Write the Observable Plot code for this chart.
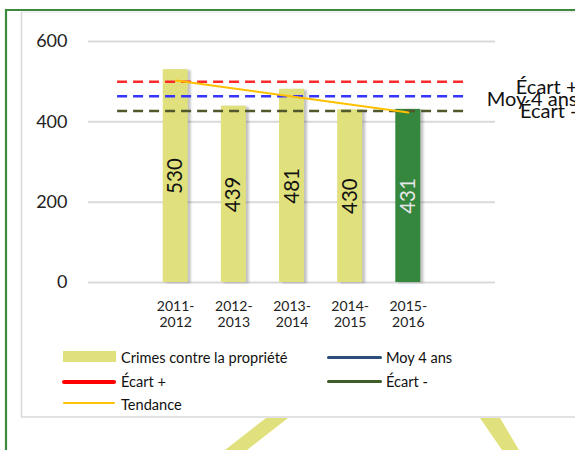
<!DOCTYPE html>
<html>
<head>
<meta charset="utf-8">
<script src="https://cdn.jsdelivr.net/npm/d3@7"></script>
<script src="https://cdn.jsdelivr.net/npm/@observablehq/plot@0.6"></script>
<style>
  html, body { margin: 0; padding: 0; background: #fff; }
  #wrap { position: relative; width: 575px; height: 450px; overflow: hidden; font-family: Lato, "Open Sans", sans-serif; }
  #deco { position: absolute; left: 0; top: 0; }
  #chart { position: absolute; left: 0; top: 0; }
  .leg { position: absolute; font-size: 14.6px; color: #111; line-height: 16px; white-space: nowrap; }
  .sw { position: absolute; }
</style>
</head>
<body>
<div id="wrap">
  <svg id="deco" width="575" height="450">
    <path d="M6,450 V10 H575" fill="none" stroke="#3b8a40" stroke-width="2.2"/>
    <path d="M21.5,12 V417 H575" fill="none" stroke="#d9d9d9" stroke-width="1.5"/>
    <path d="M21.5,12 H575" fill="none" stroke="#e3e3e3" stroke-width="1"/>
    <polygon points="266,418 288,418 247,450 225,450" fill="#e0e17d"/>
    <polygon points="480,418 500,418 519,450 502,450" fill="#e0e17d"/>
  </svg>
  <div id="chart"></div>
  <div id="legend"></div>
</div>
<script>
// ---- data ----
const periods = ["2011-\n2012", "2012-\n2013", "2013-\n2014", "2014-\n2015", "2015-\n2016"];
const crimes = [530, 439, 481, 430, 431];
const tendance = [503, 483, 463, 443, 423];
const refNames = ["Écart +", "Moy 4 ans", "Écart -"];
const refValues = [500, 464, 427];
const yTicks = [0, 200, 400, 600];
const legendNames = ["Crimes contre la propriété", "Moy 4 ans", "Écart +", "Écart -", "Tendance"];

// ---- styles ----
const barColor = "#e0e17d";
const lastBarColor = "#35873e";
const refColors = ["#ff2b2b", "#3535ff", "#50582c"];
const refLabelDy = [6, 3, 1];
const idx = crimes.map((_, i) => i);
const hw = 0.215;

const marks = [
  Plot.gridY(yTicks, {stroke: "#d9d9d9", strokeOpacity: 1, strokeWidth: 2}),
  Plot.axisY({ticks: yTicks, tickSize: 0, tickPadding: 21, fontSize: 18, fill: "#222"}),
  Plot.axisX({ticks: [1, 2, 3, 4, 5], tickFormat: d => periods[d - 1], tickSize: 0, tickPadding: 17, fontSize: 14, lineHeight: 1.15, fill: "#222"}),
  // shadows
  Plot.rectY(idx, {x1: i => i + 1 - hw, x2: i => i + 1 + hw, y1: 0, y2: i => crimes[i], fill: "#555", fillOpacity: 0.35, dx: 3, dy: 1}),
  // bars
  Plot.rectY(idx.slice(0, 4), {x1: i => i + 1 - hw, x2: i => i + 1 + hw, y1: 0, y2: i => crimes[i], fill: barColor}),
  Plot.rectY(idx.slice(4), {x1: i => i + 1 - hw, x2: i => i + 1 + hw, y1: 0, y2: i => crimes[i], fill: lastBarColor}),
  // reference lines
  ...refValues.map((v, k) => Plot.ruleY([v], {x1: 0, x2: 6, stroke: refColors[k], strokeWidth: 2.5, strokeDasharray: "10,6"})),
  // trend
  Plot.line(idx, {x: i => i + 1, y: i => tendance[i], stroke: "#ffc000", strokeWidth: 2}),
  // bar labels
  Plot.text(idx.slice(0, 4), {x: i => i + 1, y: i => crimes[i] / 2, text: i => String(crimes[i]), rotate: -90, fontSize: 20.5, fill: "#111"}),
  Plot.text(idx.slice(4), {x: i => i + 1, y: i => crimes[i] / 2, text: i => String(crimes[i]), rotate: -90, fontSize: 20.5, fill: "#e6e6e6"}),
  // reference labels
  ...refValues.map((v, k) => Plot.text([v], {x: 6.5, y: d => d, text: () => refNames[k], textAnchor: "end", dx: 82, dy: refLabelDy[k], fontSize: 20, fill: "#111"}))
];

const chart = Plot.plot({
  width: 575,
  height: 340,
  marginLeft: 88,
  marginRight: 80,
  marginTop: 41,
  marginBottom: 58,
  style: {fontFamily: "Lato, 'Open Sans', sans-serif", background: "transparent", overflow: "visible"},
  x: {type: "linear", domain: [-0.5, 6.5], axis: null},
  y: {domain: [0, 600], axis: null},
  marks
});
d3.select(chart).select('g[aria-label="rect"]').style("filter", "blur(1px)");
document.getElementById("chart").appendChild(chart);

// ---- legend ----
const legendSpec = [
  {type: "rect", color: barColor, sx: 63, sy: 351, sw: 53, sh: 11, tx: 121, ty: 350},
  {type: "line", color: "#2b4e7a", sx: 327, sy: 355.5, sw: 55, sh: 3.5, tx: 386, ty: 350},
  {type: "line", color: "#ff0000", sx: 62, sy: 379.5, sw: 54, sh: 4, tx: 121, ty: 374},
  {type: "line", color: "#3d5e27", sx: 327, sy: 379.5, sw: 55, sh: 3.5, tx: 386, ty: 374},
  {type: "line", color: "#ffc000", sx: 63, sy: 402, sw: 52, sh: 2, tx: 121, ty: 397}
];
const leg = document.getElementById("legend");
legendSpec.forEach((s, i) => {
  const sw = document.createElement("div");
  sw.className = "sw";
  Object.assign(sw.style, {left: s.sx + "px", top: s.sy + "px", width: s.sw + "px", height: s.sh + "px", background: s.color, borderRadius: s.type === "line" ? "2px" : "0"});
  leg.appendChild(sw);
  const t = document.createElement("div");
  t.className = "leg";
  t.textContent = legendNames[i];
  Object.assign(t.style, {left: s.tx + "px", top: s.ty + "px"});
  leg.appendChild(t);
});
</script>
</body>
</html>
